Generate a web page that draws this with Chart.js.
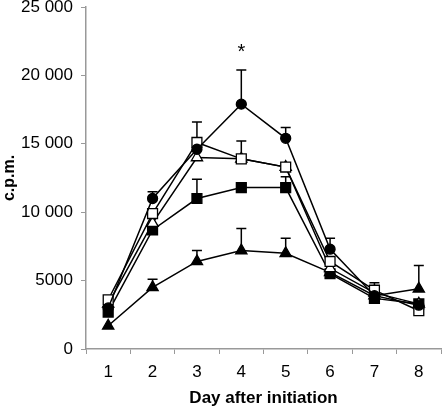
<!DOCTYPE html>
<html>
<head>
<meta charset="utf-8">
<script src="https://cdn.jsdelivr.net/npm/chart.js@4/dist/chart.umd.min.js"></script>
<style>
html,body{margin:0;padding:0;background:#fff;}
#wrap{width:442px;height:409px;position:relative;}
</style>
</head>
<body>
<div id="wrap"><canvas id="c" width="442" height="409"></canvas></div>
<script>
const days = ['1','2','3','4','5','6','7','8'];
const yTicks = [0, 5000, 10000, 15000, 20000, 25000];

const filledCircle   = [3000, 11000, 14600, 17900, 15400, 7300, 3900, 3200];
const openSquare     = [3600,  9900, 15100, 13900, 13300, 6400, 4300, 2800];
const openTriangle   = [3300,  9200, 14000, 13900, 13300, 5900, 4100, 3300];
const filledSquare   = [2700,  8700, 11000, 11800, 11800, 5500, 3700, 3300];
const filledTriangle = [1700,  4500,  6400,  7200,  7000, 5600, 3900, 4400];

// upper error (SE) — only upward whiskers visible
const filledCircleErr   = [null, 500, null, 2500, 800, 800, null, null];
const openSquareErr     = [null, null, 1500, 1300, null, null, 550, null];
const openTriangleErr   = [null, null, null, null, null, null, null, null];
const filledSquareErr   = [null, null, 1400, null, 800, null, null, null];
const filledTriangleErr = [null, 600, 800, 1600, 1100, null, null, 1700];

const starLabel = {day: '4', value: 22000, text: '*'};

function fmt(v){
  if (v >= 10000) { const s = String(v); return s.slice(0, s.length-3) + ' ' + s.slice(-3); }
  return String(v);
}

const errorBars = {
  id: 'errorBars',
  beforeDatasetsDraw(chart){
    const ctx = chart.ctx, ys = chart.scales.y;
    ctx.save();
    ctx.strokeStyle = '#000';
    ctx.lineWidth = 1.5;
    chart.data.datasets.forEach((ds, i) => {
      const meta = chart.getDatasetMeta(i);
      (ds.errUp || []).forEach((e, j) => {
        if (e == null) return;
        const p = meta.data[j];
        const yTop = ys.getPixelForValue(ds.data[j] + e);
        ctx.beginPath();
        ctx.moveTo(p.x, p.y); ctx.lineTo(p.x, yTop);
        ctx.moveTo(p.x - 5, yTop); ctx.lineTo(p.x + 5, yTop);
        ctx.stroke();
      });
    });
    ctx.restore();
  },
  afterDatasetsDraw(chart){
    const ctx = chart.ctx;
    const x = chart.scales.x.getPixelForValue(days.indexOf(starLabel.day));
    const y = chart.scales.y.getPixelForValue(starLabel.value);
    ctx.save();
    ctx.fillStyle = '#000';
    ctx.font = '20px "Liberation Sans", Arial, sans-serif';
    ctx.textAlign = 'center';
    ctx.textBaseline = 'middle';
    ctx.fillText(starLabel.text, x, y + 4);
    ctx.restore();
  }
};

function ds(data, err, style, filled, radius){
  return {
    data, errUp: err,
    borderColor: '#000', borderWidth: 1.5,
    pointStyle: style, pointRadius: radius, pointHoverRadius: radius,
    pointBackgroundColor: filled ? '#000' : '#fff',
    pointBorderColor: '#000', pointBorderWidth: 1.3,
    tension: 0, fill: false
  };
}

new Chart(document.getElementById('c'), {
  type: 'line',
  data: {
    labels: days,
    datasets: [
      ds(filledCircle, filledCircleErr, 'circle', true, 5),
      ds(openSquare, openSquareErr, 'rect', false, 7),
      ds(openTriangle, openTriangleErr, 'triangle', false, 6.5),
      ds(filledSquare, filledSquareErr, 'rect', true, 7),
      ds(filledTriangle, filledTriangleErr, 'triangle', true, 6.5)
    ]
  },
  options: {
    responsive: false,
    animation: false,
    devicePixelRatio: 1,
    layout: {autoPadding: false, padding: {top: 7, right: 1, bottom: 0, left: 0}},
    plugins: {legend: {display: false}, tooltip: {enabled: false}},
    scales: {
      x: {
        type: 'category',
        offset: true,
        grid: {display: true, drawOnChartArea: false, drawTicks: true, tickLength: 5, color: '#999', offset: true},
        border: {display: true, color: '#999', width: 1.5},
        ticks: {color: '#000', font: {family: '"Liberation Sans", Arial, sans-serif', size: 17}, padding: 8, maxRotation: 0},
        title: {display: true, text: 'Day after initiation', color: '#000', font: {family: '"Liberation Sans", Arial, sans-serif', size: 17, weight: 'bold'}, padding: {top: 3, bottom: 0}},
        afterFit(s){ s.height = 60; }
      },
      y: {
        min: 0, max: 25000,
        afterBuildTicks(s){ s.ticks = yTicks.map(v => ({value: v})); },
        grid: {display: true, drawOnChartArea: false, drawTicks: true, tickLength: 5, color: '#999'},
        border: {display: true, color: '#999', width: 1.5},
        ticks: {color: '#000', font: {family: '"Liberation Sans", Arial, sans-serif', size: 17}, padding: 8, callback: v => fmt(v)},
        title: {display: true, text: 'c.p.m.', color: '#000', font: {family: '"Liberation Sans", Arial, sans-serif', size: 16, weight: 'bold'}, padding: {top: 0, bottom: 0}},
        afterFit(s){ s.width = 86; s.paddingTop = 0; s.paddingBottom = 0; }
      }
    }
  },
  plugins: [errorBars]
});
</script>
</body>
</html>
